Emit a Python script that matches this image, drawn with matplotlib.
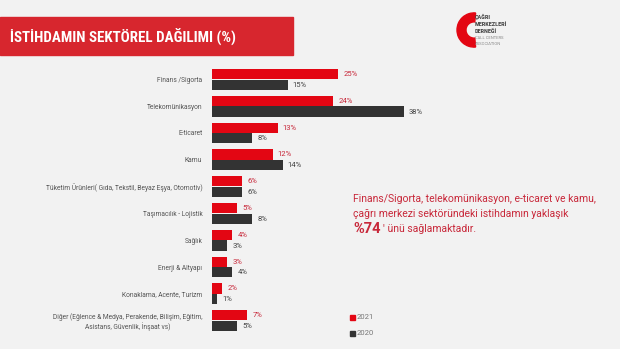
import matplotlib.pyplot as plt
from matplotlib.patches import Rectangle, Wedge

plt.rcParams['font.family'] = ['Roboto', 'DejaVu Sans']

categories = [
    'Finans /Sigorta',
    'Telekomünikasyon',
    'E-ticaret',
    'Kamu',
    'Tüketim Ürünleri( Gıda, Tekstil, Beyaz Eşya, Otomotiv)',
    'Taşımacılık - Lojistik',
    'Sağlık',
    'Enerji & Altyapı',
    'Konaklama, Acente, Turizm',
    'Diğer (Eğlence & Medya, Perakende, Bilişim, Eğitim,\nAsistans, Güvenlik, İnşaat vs)',
]
share_2021 = [25, 24, 13, 12, 6, 5, 4, 3, 2, 7]
share_2020 = [15, 38, 8, 14, 6, 8, 3, 4, 1, 5]
years = ['2021', '2020']

bg = '#f2f2f2'
red = '#e30613'
dark = '#333333'
red_txt = '#c8283a'
narrow = ['Roboto Condensed', 'Noto Sans Condensed', 'Open Sans Condensed',
          'Liberation Sans Narrow', 'Noto Sans']

W, H = 620, 349
fig = plt.figure(figsize=(6.2, 3.49), dpi=100, facecolor=bg)

# title banner
fig.patches.append(Rectangle((0, 1 - 55 / H), 293 / W, 38 / H, transform=fig.transFigure,
                             color='#d7262e', zorder=0))
fig.text(10 / W, 1 - 37 / H, 'İSTİHDAMIN SEKTÖREL DAĞILIMI (%)', color='white',
         fontsize=10.8, fontweight='bold', fontstretch='condensed', va='center', ha='left',
         family=narrow)

# logo
lax = fig.add_axes([448 / W, 1 - 48 / H, 36 / W, 36 / H])
lax.set_xlim(-1, 1)
lax.set_ylim(-1, 1)
lax.set_aspect('equal')
lax.axis('off')
lax.add_patch(Wedge((0.45, 0), 0.95, 85, 275, width=0.5, color='#e30613'))
for i, t in enumerate(['ÇAĞRI', 'MERKEZLERİ', 'DERNEĞİ']):
    fig.text(475 / W, 1 - (17 + i * 7) / H, t, fontsize=4.5, fontweight='bold',
             fontstretch='condensed', color='#444444', va='center', ha='left',
             family=narrow)
for i, t in enumerate(['CALL CENTERS', 'ASSOCIATION']):
    fig.text(475 / W, 1 - (38 + i * 6) / H, t, fontsize=3, color='#888888',
             va='center', ha='left')

# bars
ax = fig.add_axes([212 / W, 1 - 334 / H, 202 / W, 268 / H])
ax.set_facecolor(bg)
pos = list(range(len(categories)))
off = 0.2
hgt = 0.38
ax.barh([p - off for p in pos], share_2021, height=hgt, color=red, label=years[0])
ax.barh([p + off for p in pos], share_2020, height=hgt, color=dark, label=years[1])
for p, a, b in zip(pos, share_2021, share_2020):
    ax.text(a + 1, p - off, f'{a}%', color=red_txt, fontsize=5.5, va='center', ha='left')
    ax.text(b + 1, p + off, f'{b}%', color='#444444', fontsize=5.5, va='center', ha='left')
ax.set_xlim(0, 40)
ax.set_ylim(len(categories) - 0.5, -0.5)
ax.set_yticks(pos)
ax.set_yticklabels(categories, fontsize=4.8, color='#555555', multialignment='center')
ax.tick_params(axis='y', length=0, pad=7)
ax.set_xticks([])
for s in ax.spines.values():
    s.set_visible(False)

# legend
for i, (yr, c) in enumerate(zip(years, [red, dark])):
    y = 1 - (317 + i * 16) / H
    fig.patches.append(Rectangle((350 / W, y - 2.5 / H), 5 / W, 5 / H,
                                 transform=fig.transFigure, color=c))
    fig.text(357 / W, y, yr, fontsize=5.5, color='#777777', va='center', ha='left')

# annotation
fig.text(353 / W, 1 - 199 / H, 'Finans/Sigorta, telekomünikasyon, e-ticaret ve kamu,',
         color=red_txt, fontsize=7.5, va='center', ha='left')
fig.text(353 / W, 1 - 214 / H, 'çağrı merkezi sektöründeki istihdamın yaklaşık',
         color=red_txt, fontsize=7.5, va='center', ha='left')
fig.text(353 / W, 1 - 229 / H, '%74', color=red_txt, fontsize=10.5, fontweight='bold',
         va='center', ha='left')
fig.text(383 / W, 1 - 229 / H, "' ünü sağlamaktadır.", color=red_txt, fontsize=7.5,
         va='center', ha='left')

fig.savefig('out.png', dpi=100, facecolor=bg)
